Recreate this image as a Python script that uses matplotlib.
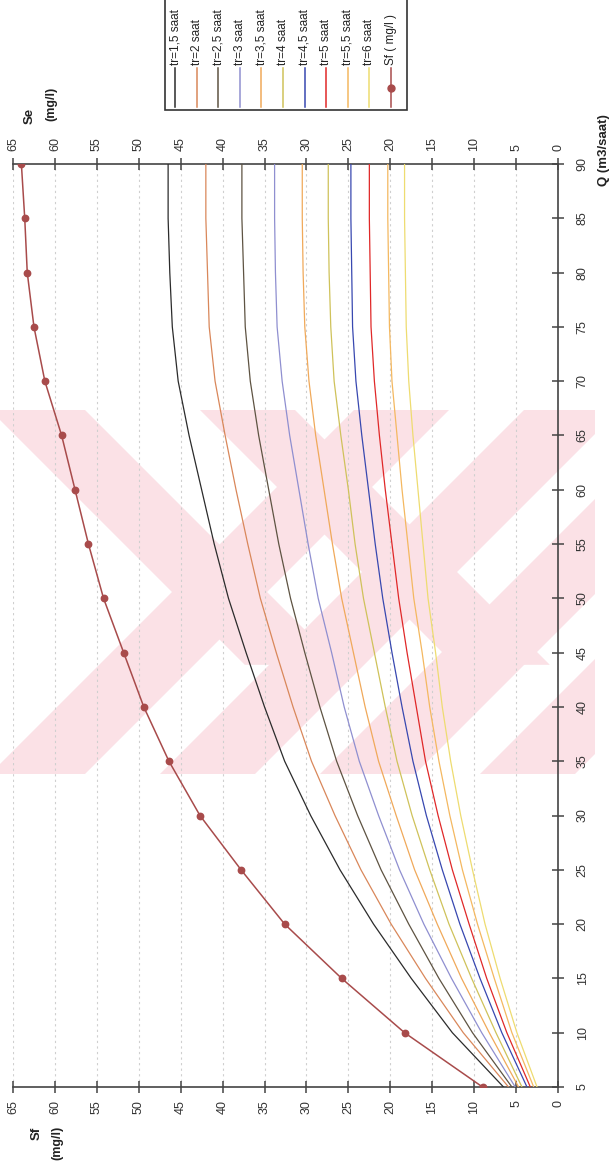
import matplotlib
matplotlib.use("Agg")
import matplotlib.pyplot as plt
from matplotlib.patches import Polygon, Rectangle
from matplotlib.lines import Line2D

# Flow rate Q (m3/saat)
q = [5, 10, 15, 20, 25, 30, 35, 40, 45, 50, 55, 60, 65, 70, 75, 80, 85, 90]

# Effluent concentration Se (mg/l) for each retention time
se_tr15 = [6.5, 12.6, 17.5, 22.0, 26.0, 29.5, 32.6, 35.0, 37.2, 39.3, 41.0, 42.5, 44.0, 45.3, 46.0, 46.3, 46.5, 46.5]
se_tr20 = [5.9, 11.3, 15.8, 19.9, 23.5, 26.6, 29.4, 31.6, 33.6, 35.5, 37.0, 38.4, 39.7, 40.9, 41.6, 41.8, 42.0, 42.0]
se_tr25 = [5.5, 10.2, 14.2, 17.8, 21.1, 23.9, 26.4, 28.4, 30.2, 31.9, 33.3, 34.5, 35.7, 36.7, 37.3, 37.5, 37.7, 37.7]
se_tr30 = [5.1, 9.1, 12.7, 16.0, 18.9, 21.4, 23.7, 25.5, 27.0, 28.6, 29.8, 30.9, 32.0, 32.9, 33.5, 33.7, 33.8, 33.8]
se_tr35 = [4.7, 8.2, 11.5, 14.4, 17.1, 19.3, 21.4, 23.0, 24.4, 25.8, 26.9, 27.9, 28.9, 29.7, 30.2, 30.4, 30.5, 30.5]
se_tr40 = [4.3, 7.4, 10.3, 13.0, 15.3, 17.4, 19.2, 20.6, 21.9, 23.2, 24.2, 25.0, 25.9, 26.7, 27.1, 27.3, 27.4, 27.4]
se_tr45 = [3.7, 6.7, 9.3, 11.7, 13.8, 15.7, 17.3, 18.6, 19.8, 20.9, 21.8, 22.6, 23.4, 24.1, 24.5, 24.6, 24.7, 24.7]
se_tr50 = [3.3, 6.1, 8.5, 10.6, 12.6, 14.3, 15.8, 16.9, 18.0, 19.0, 19.8, 20.6, 21.3, 21.9, 22.3, 22.4, 22.5, 22.5]
se_tr55 = [2.9, 5.5, 7.6, 9.6, 11.4, 12.9, 14.2, 15.3, 16.2, 17.2, 17.9, 18.6, 19.2, 19.8, 20.1, 20.2, 20.3, 20.3]
se_tr60 = [2.5, 4.9, 6.9, 8.7, 10.2, 11.6, 12.8, 13.8, 14.6, 15.5, 16.1, 16.7, 17.3, 17.8, 18.1, 18.2, 18.3, 18.3]

# Influent concentration Sf (mg/l)
sf = [9.0, 18.3, 25.8, 32.6, 37.8, 42.7, 46.4, 49.4, 51.8, 54.2, 56.0, 57.6, 59.2, 61.2, 62.5, 63.3, 63.6, 64.0]

se_series = [se_tr15, se_tr20, se_tr25, se_tr30, se_tr35, se_tr40, se_tr45, se_tr50, se_tr55, se_tr60]
se_labels = ["tr=1,5 saat", "tr=2 saat", "tr=2,5 saat", "tr=3 saat", "tr=3,5 saat",
             "tr=4 saat", "tr=4,5 saat", "tr=5 saat", "tr=5,5 saat", "tr=6 saat"]
se_colors = ["#2b2b2b", "#d9875a", "#5e5342", "#8f8fd0", "#f0a95a",
             "#cfc25a", "#3848b0", "#e02828", "#f4b860", "#eedc70"]
sf_label = "Sf ( mg/l )"
sf_color = "#a84b4b"

conc_ticks = list(range(0, 70, 5))
q_ticks = list(range(5, 95, 5))

plt.rcParams["font.family"] = ["Liberation Sans", "DejaVu Sans"]

W, H = 614, 1172
fig = plt.figure(figsize=(W / 100, H / 100), dpi=100)


def fx(x):
    return x / W


def fy(y):
    return 1 - y / H


# Plot area (rotated layout: concentration runs horizontally, Q vertically)
left, right, top, bottom = 13, 558, 164, 1087
ax = fig.add_axes([fx(left), fy(bottom), (right - left) / W, (bottom - top) / H])
ax.set_facecolor("none")

# Background watermark bands
wm_top, wm_bot, wm_right = 410, 774, 595
clip = Rectangle((fx(0), fy(wm_bot)), fx(wm_right), (wm_bot - wm_top) / H,
                 transform=fig.transFigure, facecolor="none", edgecolor="none")
fig.patches.append(clip)
pink = "#fbe1e6"
span = wm_bot - wm_top
for x0 in (-10, 160, 320, 480):
    poly = Polygon([(fx(x0), fy(wm_bot)), (fx(x0 + 95), fy(wm_bot)),
                    (fx(x0 + 95 + span), fy(wm_top)), (fx(x0 + span), fy(wm_top))],
                   closed=True, transform=fig.transFigure, facecolor=pink,
                   edgecolor="none", zorder=-5)
    poly.set_clip_path(clip)
    fig.patches.append(poly)
for x0 in (-10, 200):
    poly = Polygon([(fx(x0), fy(wm_top)), (fx(x0 + 95), fy(wm_top)),
                    (fx(x0 + 95 + 0.7 * span), fy(wm_top + 0.7 * span)),
                    (fx(x0 + 0.7 * span), fy(wm_top + 0.7 * span))],
                   closed=True, transform=fig.transFigure, facecolor=pink,
                   edgecolor="none", zorder=-5)
    poly.set_clip_path(clip)
    fig.patches.append(poly)

for vals, col in zip(se_series, se_colors):
    ax.plot(vals, q, color=col, lw=0.9, zorder=3)
ax.plot(sf, q, color=sf_color, lw=1.1, marker="o", ms=4.6, zorder=4)

ax.set_xlim(65, 0)
ax.set_ylim(5, 90)
ax.set_xticks(conc_ticks)
ax.set_yticks(q_ticks)
ax.grid(axis="x", color="#cfcfcf", lw=0.8, linestyle=(0, (2, 3)))
ax.grid(axis="y", visible=False)

ax.yaxis.tick_right()
ax.tick_params(axis="x", which="both", top=True, bottom=True, labeltop=True,
               labelbottom=True, direction="inout", length=9, width=1.1,
               color="#444444", labelrotation=90, labelsize=9,
               labelcolor="#333333", pad=5)
ax.tick_params(axis="y", right=True, left=False, labelright=True, labelleft=False,
               direction="inout", length=9, width=1.1, color="#444444",
               labelrotation=90, labelsize=9, labelcolor="#333333", pad=9)
for lbl in ax.get_yticklabels():
    lbl.set_va("center")

ax.spines["left"].set_visible(False)
for s in ("top", "bottom", "right"):
    ax.spines[s].set_color("#444444")
    ax.spines[s].set_linewidth(1.2)

# Axis titles
fig.text(fx(604), fy(150), "Q (m3/saat)", rotation=90, fontsize=9.5,
         fontweight="bold", ha="center", va="center", color="#222222")
fig.text(fx(30), fy(116), "Se", rotation=90, fontsize=9.5, fontweight="bold",
         ha="center", va="center", color="#222222")
fig.text(fx(51), fy(104), "(mg/l)", rotation=90, fontsize=9, fontweight="bold",
         ha="center", va="center", color="#222222")
fig.text(fx(37), fy(1133), "Sf", rotation=90, fontsize=9.5, fontweight="bold",
         ha="center", va="center", color="#222222")
fig.text(fx(57), fy(1143), "(mg/l)", rotation=90, fontsize=9, fontweight="bold",
         ha="center", va="center", color="#222222")

# Legend box with vertical entries
box = Rectangle((fx(165), fy(110)), (407 - 165) / W, 130 / H, transform=fig.transFigure,
                facecolor="white", edgecolor="#333333", lw=1.2, zorder=5, clip_on=False)
fig.patches.append(box)
entry_labels = se_labels + [sf_label]
entry_colors = se_colors + [sf_color]
for i, (lab, col) in enumerate(zip(entry_labels, entry_colors)):
    xi = 175 + 21.6 * i
    fig.lines.append(Line2D([fx(xi), fx(xi)], [fy(107), fy(68)], transform=fig.transFigure,
                            color=col, lw=1.1, zorder=6))
    if lab == sf_label:
        fig.lines.append(Line2D([fx(xi)], [fy(88)], transform=fig.transFigure, color=col,
                                marker="o", ms=5, zorder=7))
    fig.text(fx(xi), fy(65), lab, rotation=90, fontsize=8.5, ha="center", va="bottom",
             color="#222222", zorder=7)

fig.savefig("out.png", dpi=100)
